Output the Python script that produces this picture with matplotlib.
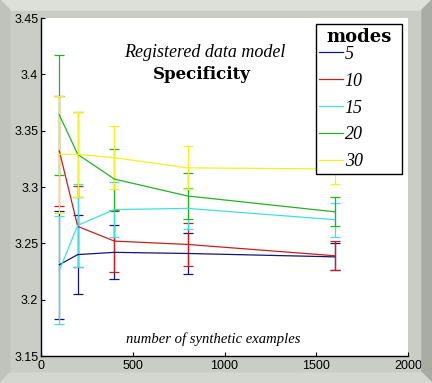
# Specificity of the registered data model vs number of synthetic examples
import numpy as np
import matplotlib
matplotlib.use("Agg")
import matplotlib.pyplot as plt
from matplotlib.patches import Polygon

# data
n_examples = [100, 200, 400, 800, 1600]
mode_labels = ['5', '10', '15', '20', '30']

spec_5 = [3.231, 3.240, 3.242, 3.241, 3.238]
err_5 = [0.048, 0.035, 0.024, 0.018, 0.012]
spec_10 = [3.332, 3.265, 3.252, 3.249, 3.239]
err_10 = [0.049, 0.036, 0.027, 0.019, 0.013]
spec_15 = [3.226, 3.266, 3.280, 3.281, 3.271]
err_15 = [0.048, 0.037, 0.024, 0.018, 0.015]
spec_20 = [3.364, 3.329, 3.307, 3.292, 3.278]
err_20 = [0.053, 0.038, 0.027, 0.020, 0.013]
spec_30 = [3.329, 3.329, 3.326, 3.317, 3.316]
err_30 = [0.052, 0.038, 0.028, 0.019, 0.013]

colors = ['#141478', '#c81e1e', '#40e0e0', '#22b422', '#f2f21e']

# figure settings
W, H = 432, 383
fig = plt.figure(figsize=(W / 100.0, H / 100.0), dpi=100, facecolor='#c9cdc5')

# bevelled frame around the figure
b = 10.0
bx, by = b / W, b / H
fig.patches.append(Polygon([(0, 1), (1, 1), (1 - bx, 1 - by), (bx, 1 - by)],
                           closed=True, transform=fig.transFigure, color='#dde0d9'))
fig.patches.append(Polygon([(0, 0), (0, 1), (bx, 1 - by), (bx, by)],
                           closed=True, transform=fig.transFigure, color='#bfc3bb'))
fig.patches.append(Polygon([(1, 0), (1, 1), (1 - bx, 1 - by), (1 - bx, by)],
                           closed=True, transform=fig.transFigure, color='#a8aca5'))
fig.patches.append(Polygon([(0, 0), (1, 0), (1 - bx, by), (bx, by)],
                           closed=True, transform=fig.transFigure, color='#d4d7d0'))

ax = fig.add_axes([41.0 / W, 1 - 356.0 / H, 367.0 / W, 338.0 / H])
ax.set_facecolor('white')

series = [spec_5, spec_10, spec_15, spec_20, spec_30]
errors = [err_5, err_10, err_15, err_20, err_30]
handles = []
for s, e, c, lab in zip(series, errors, colors, mode_labels):
	eb = ax.errorbar(n_examples, s, yerr=e, color=c, lw=0.9, elinewidth=0.9,
	                 capsize=3.5, capthick=0.9, label=lab)
	handles.append(eb[0])

ax.set_xlim(0, 2000)
ax.set_ylim(3.15, 3.45)
ax.set_xticks([0, 500, 1000, 1500, 2000])
ax.set_yticks([3.15, 3.2, 3.25, 3.3, 3.35, 3.4, 3.45])
ax.set_yticklabels(['3.15', '3.2', '3.25', '3.3', '3.35', '3.4', '3.45'])
ax.tick_params(direction='in', length=3, width=0.8, labelsize=9, pad=3,
               labelfontfamily='Liberation Sans', colors='black')
ax.tick_params(axis='y', pad=2)
for side in ['top', 'right']:
	ax.spines[side].set_visible(False)
for side in ['left', 'bottom']:
	ax.spines[side].set_linewidth(1.0)

ax.text(0.447, 0.898, 'Registered data model', transform=ax.transAxes,
        ha='center', va='center', fontsize=13, style='italic', family='Liberation Serif')
ax.text(0.438, 0.834, 'Specificity', transform=ax.transAxes,
        ha='center', va='center', fontsize=12, weight='bold', family='DejaVu Serif')
ax.text(0.470, 0.049, 'number of synthetic examples', transform=ax.transAxes,
        ha='center', va='center', fontsize=10.5, style='italic', family='Liberation Serif')

# legend box spans x 316..402, y 24..169 px in the reference
leg = ax.legend(handles, mode_labels, loc='upper left',
                bbox_to_anchor=(0.749, 0.553, 0.235, 0.429), mode='expand',
                borderaxespad=0, fancybox=False, framealpha=1, edgecolor='black',
                prop={'family': 'Liberation Serif', 'style': 'italic', 'size': 13},
                title='modes', handlelength=1.3, handletextpad=0.1,
                labelspacing=0.55, borderpad=0.2)
leg.get_title().set_fontfamily('DejaVu Serif')
leg.get_title().set_fontweight('bold')
leg.get_title().set_fontsize(13)
leg._legend_box.sep = 0
leg.get_frame().set_linewidth(1.0)
leg.set_zorder(10)

plt.savefig('out.png', dpi=100, facecolor=fig.get_facecolor())
